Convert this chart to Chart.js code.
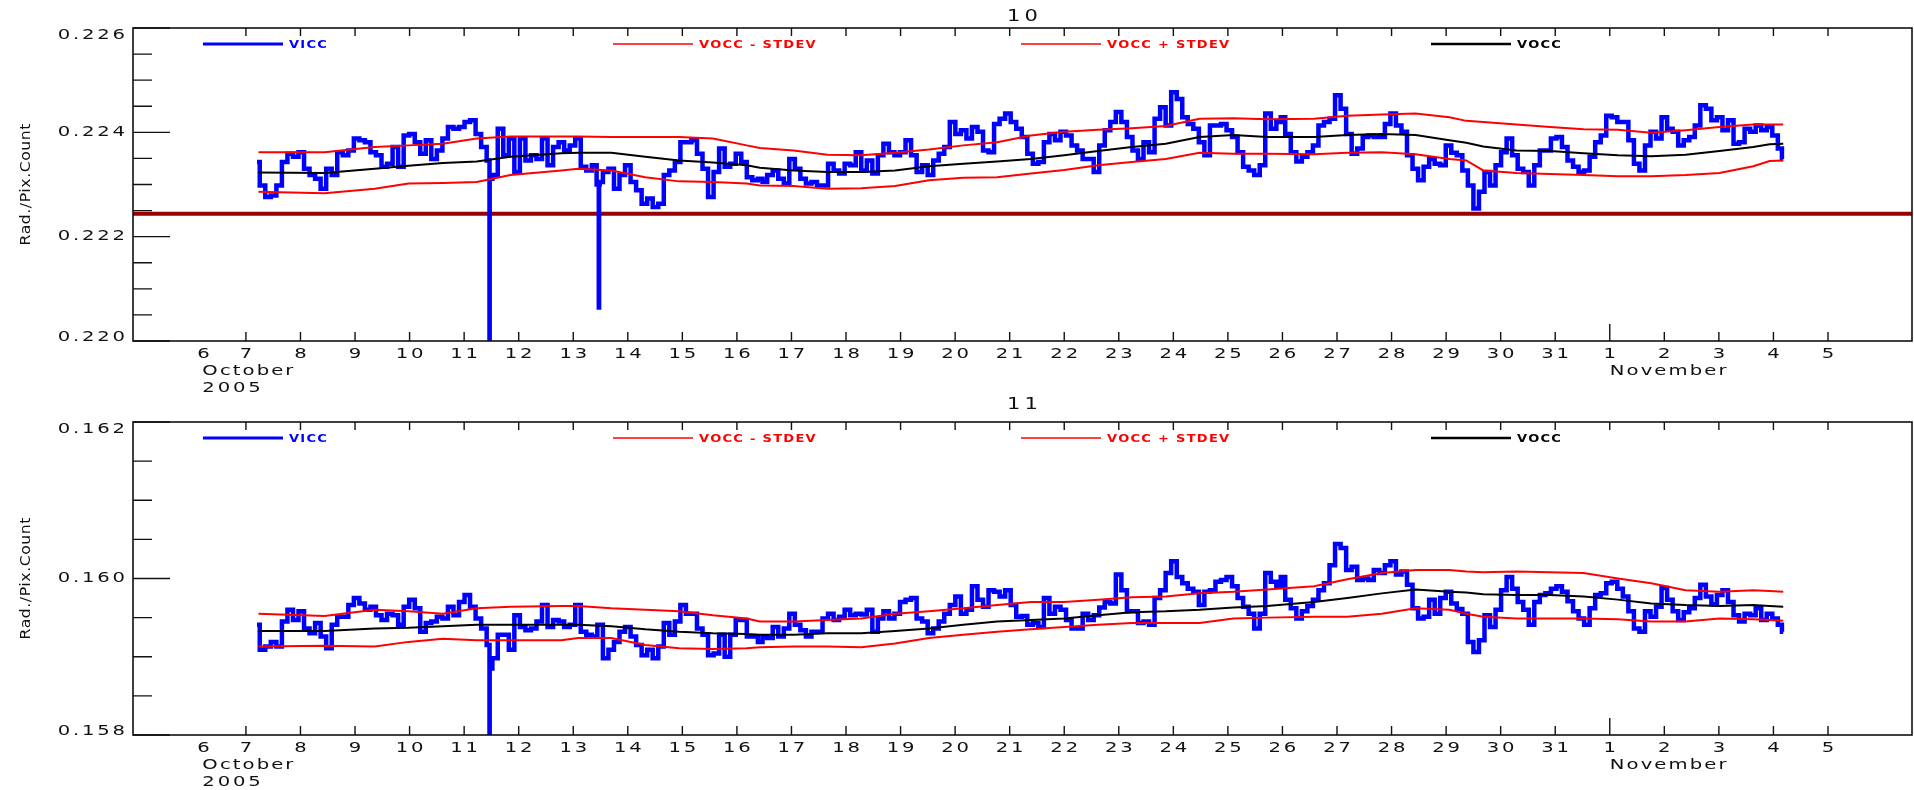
<!DOCTYPE html>
<html>
<head>
<meta charset="utf-8">
<title>VICC / VOCC bands 10 and 11</title>
<script src="https://cdn.jsdelivr.net/npm/chart.js@4.4.1/dist/chart.umd.min.js"></script>
<style>
  html, body { margin: 0; padding: 0; background: #ffffff; }
  #wrap { position: relative; width: 1914px; height: 790px; overflow: hidden; }
  #wrap canvas { position: absolute; left: 0; }
</style>
</head>
<body>
<div id="wrap">
  <canvas id="band10" width="1914" height="395" style="top:0px"></canvas>
  <canvas id="band11" width="1914" height="395" style="top:395px"></canvas>
</div>
<script>
// ---- time axis (day of October 2005; 32 = 1 November) ----
const axisDayMin = 4.93;
const axisDayMax = 37.54;
const dayTicks = [7,8,9,10,11,12,13,14,15,16,17,18,19,20,21,22,23,24,25,26,27,28,29,30,31,32,33,34,35,36];
const dayTickLabels = ['7','8','9','10','11','12','13','14','15','16','17','18','19','20','21','22','23','24','25','26','27','28','29','30','31','1','2','3','4','5'];
const leadDayLabel = '6';
const monthLabels = ['October', 'November'];
const yearLabel = '2005';

// ---- VICC samples (shared sample times for both bands) ----
const sampleDays = [
  7.203,7.304,7.406,7.507,7.609,7.710,7.812,7.913,8.015,8.116,8.217,8.319,8.420,8.522,8.623,8.725,8.826,8.928,9.029,9.130,
  9.232,9.333,9.435,9.536,9.638,9.739,9.841,9.942,10.044,10.145,10.246,10.348,10.449,10.551,10.652,10.754,10.855,10.957,11.058,11.159,
  11.261,11.362,11.464,11.565,11.667,11.768,11.870,11.971,12.073,12.174,12.275,12.377,12.478,12.580,12.681,12.783,12.884,12.986,13.087,13.188,
  13.290,13.391,13.493,13.594,13.696,13.797,13.899,14.000,14.102,14.203,14.304,14.406,14.507,14.609,14.710,14.812,14.913,15.015,15.116,15.217,
  15.319,15.420,15.522,15.623,15.725,15.826,15.928,16.029,16.131,16.232,16.333,16.435,
  16.504,16.606,16.707,16.809,16.910,17.011,17.113,17.214,17.316,17.417,17.519,17.620,17.722,17.823,17.924,18.026,18.127,18.229,18.330,18.432,
  18.533,18.635,18.736,18.837,18.939,19.040,19.142,19.243,19.345,19.446,19.548,19.649,19.750,19.852,19.953,20.055,20.156,20.258,20.359,20.461,
  20.562,20.663,20.765,20.866,20.968,21.069,21.171,21.272,21.374,21.475,21.576,21.678,21.779,21.881,21.982,22.084,22.185,22.287,22.388,22.489,
  22.591,22.692,22.794,22.895,22.997,23.098,23.200,23.301,23.402,23.504,23.605,23.707,23.808,23.910,24.011,24.113,24.214,24.315,24.417,24.518,
  24.620,24.721,24.823,24.924,25.026,25.127,25.228,25.330,25.431,25.533,25.634,25.736,25.837,25.939,
  26.000,26.102,26.204,26.305,26.406,26.508,26.609,26.711,26.812,26.914,27.015,27.117,27.218,27.319,27.421,27.522,27.624,27.725,27.827,27.928,
  28.030,28.131,28.232,28.334,28.435,28.537,28.638,28.740,28.841,28.943,29.044,29.145,29.247,29.348,29.450,29.551,29.653,29.754,29.856,29.957,
  30.058,30.160,30.261,30.363,30.464,30.566,30.667,30.769,30.870,30.972,31.073,31.174,31.276,31.377,31.479,31.580,31.682,31.783,31.885,31.986,
  32.087,32.189,32.290,32.392,32.493,32.595,32.696,32.798,32.899,33.000,33.102,33.203,33.305,33.406,33.508,33.609,33.711,33.812,33.913,34.015,
  34.116,34.218,34.319,34.421,34.522,34.624,34.725,34.827,34.928,35.030,35.131,35.180
];

const vicc10 = [
  0.22343,0.22298,0.22276,0.22279,0.22298,0.22343,0.22359,0.22353,0.22362,0.22330,0.22318,0.22311,0.22292,0.22330,0.22318,0.22362,0.22356,0.22365,0.22388,0.22385,
  0.22381,0.22362,0.22356,0.22334,0.22340,0.22372,0.22334,0.22394,0.22397,0.22381,0.22359,0.22385,0.22349,0.22365,0.22388,0.22410,0.22407,0.22410,0.22420,0.22423,
  0.22397,0.22372,0.22346,0.22318,0.22407,0.22356,0.22388,0.22324,0.22388,0.22346,0.22356,0.22349,0.22388,0.22337,0.22372,0.22381,0.22365,0.22375,0.22388,0.22334,
  0.22327,0.22337,0.22305,0.22324,0.22330,0.22292,0.22318,0.22337,0.22305,0.22289,0.22263,0.22273,0.22257,0.22263,0.22318,0.22327,0.22343,0.22381,0.22381,0.22385,
  0.22359,0.22330,0.22276,0.22324,0.22369,0.22334,0.22340,0.22359,0.22343,0.22314,0.22308,0.22311,
  0.22305,0.22318,0.22327,0.22311,0.22302,0.22349,0.22330,0.22311,0.22302,0.22305,0.22298,0.22298,0.22340,0.22327,0.22321,0.22340,0.22337,0.22362,0.22327,0.22346,
  0.22321,0.22356,0.22378,0.22362,0.22356,0.22362,0.22385,0.22356,0.22324,0.22337,0.22318,0.22346,0.22359,0.22372,0.22420,0.22397,0.22404,0.22388,0.22410,0.22401,
  0.22365,0.22362,0.22416,0.22426,0.22436,0.22420,0.22407,0.22391,0.22359,0.22340,0.22343,0.22381,0.22397,0.22385,0.22401,0.22394,0.22375,0.22365,0.22349,0.22349,
  0.22324,0.22375,0.22404,0.22420,0.22439,0.22420,0.22391,0.22365,0.22349,0.22381,0.22362,0.22426,0.22448,0.22413,0.22477,0.22464,0.22429,0.22416,0.22407,0.22381,
  0.22356,0.22413,0.22413,0.22416,0.22404,0.22391,0.22362,0.22334,0.22327,0.22318,0.22337,0.22436,0.22407,0.22420,
  0.22429,0.22397,0.22362,0.22344,0.22353,0.22362,0.22375,0.22413,0.22420,0.22426,0.22471,0.22445,0.22397,0.22359,0.22369,0.22391,0.22394,0.22391,0.22391,0.22416,
  0.22436,0.22413,0.22401,0.22356,0.22330,0.22308,0.22334,0.22349,0.22340,0.22337,0.22375,0.22361,0.22356,0.22327,0.22298,0.22254,0.22286,0.22324,0.22298,0.22337,
  0.22362,0.22388,0.22356,0.22330,0.22324,0.22298,0.22337,0.22365,0.22365,0.22388,0.22391,0.22372,0.22346,0.22334,0.22324,0.22327,0.22353,0.22381,0.22394,0.22432,
  0.22429,0.22420,0.22420,0.22385,0.22340,0.22327,0.22375,0.22401,0.22388,0.22429,0.22407,0.22401,0.22375,0.22385,0.22391,0.22413,0.22452,0.22445,0.22423,0.22429,
  0.22404,0.22423,0.22378,0.22381,0.22407,0.22401,0.22413,0.22404,0.22410,0.22394,0.22369,0.22349
];

const vicc11 = [
  0.15941,0.15909,0.15913,0.15919,0.15913,0.15945,0.15960,0.15947,0.15958,0.15936,0.15930,0.15943,0.15926,0.15911,0.15941,0.15951,0.15951,0.15966,0.15975,0.15968,
  0.15960,0.15964,0.15953,0.15947,0.15955,0.15953,0.15941,0.15964,0.15973,0.15962,0.15932,0.15943,0.15945,0.15951,0.15949,0.15964,0.15953,0.15970,0.15979,0.15964,
  0.15949,0.15936,0.15915,0.15898,0.15928,0.15928,0.15909,0.15953,0.15938,0.15934,0.15936,0.15945,0.15966,0.15938,0.15947,0.15945,0.15938,0.15941,0.15966,0.15932,
  0.15928,0.15926,0.15941,0.15898,0.15909,0.15919,0.15932,0.15938,0.15926,0.15915,0.15902,0.15909,0.15898,0.15913,0.15943,0.15928,0.15945,0.15966,0.15955,0.15955,
  0.15936,0.15928,0.15902,0.15904,0.15928,0.15900,0.15928,0.15947,0.15947,0.15926,0.15926,0.15919,
  0.15926,0.15924,0.15938,0.15926,0.15936,0.15955,0.15941,0.15934,0.15926,0.15932,0.15932,0.15949,0.15955,0.15947,0.15951,0.15960,0.15953,0.15955,0.15954,0.15960,
  0.15932,0.15949,0.15958,0.15949,0.15955,0.15970,0.15973,0.15975,0.15949,0.15945,0.15930,0.15936,0.15945,0.15955,0.15966,0.15977,0.15955,0.15960,0.15990,0.15973,
  0.15964,0.15985,0.15983,0.15977,0.15985,0.15966,0.15951,0.15952,0.15941,0.15943,0.15938,0.15975,0.15955,0.15964,0.15960,0.15947,0.15936,0.15936,0.15955,0.15947,
  0.15953,0.15963,0.15970,0.15968,0.16005,0.15985,0.15958,0.15958,0.15943,0.15945,0.15941,0.15975,0.15985,0.16007,0.16022,0.16002,0.15994,0.15987,0.15983,0.15966,
  0.15983,0.15985,0.15996,0.15998,0.16002,0.15990,0.15975,0.15964,0.15955,0.15936,0.15955,0.16007,0.15996,0.15990,
  0.16002,0.15973,0.15962,0.15949,0.15958,0.15965,0.15973,0.15985,0.15994,0.16017,0.16044,0.16039,0.16011,0.16015,0.15998,0.16000,0.15998,0.16011,0.16007,0.16017,
  0.16022,0.16005,0.16009,0.15992,0.15962,0.15949,0.15951,0.15973,0.15955,0.15975,0.15983,0.15968,0.15961,0.15955,0.15919,0.15906,0.15921,0.15953,0.15938,0.15960,
  0.15985,0.16002,0.15987,0.15970,0.15960,0.15941,0.15970,0.15979,0.15981,0.15987,0.15990,0.15983,0.15971,0.15958,0.15949,0.15941,0.15962,0.15979,0.15981,0.15994,
  0.15996,0.15987,0.15977,0.15958,0.15936,0.15932,0.15958,0.15951,0.15964,0.15988,0.15973,0.15958,0.15947,0.15957,0.15962,0.15975,0.15992,0.15977,0.15967,0.15979,
  0.15985,0.15970,0.15953,0.15945,0.15955,0.15953,0.15962,0.15947,0.15955,0.15949,0.15941,0.15932
];

// short dropouts (isolated samples)
const spikeDays10 = [11.466, 11.470, 13.466, 13.471, 13.476];
const spikeVals10 = [0.21990, 0.22311, 0.22300, 0.22064, 0.22300];
const spikeDays11 = [11.466, 11.470];
const spikeVals11 = [0.15790, 0.15885];

// ---- VOCC mean and +/- STDEV envelopes ----
const envDays = [7.23,8.44,9.36,9.98,10.61,11.23,11.85,12.78,13.09,13.70,14.32,14.94,15.56,16.18,16.42,17.04,17.66,18.28,18.90,19.52,
  20.15,20.77,21.39,22.00,22.62,23.24,23.86,24.48,25.10,25.72,26.58,27.19,27.82,28.44,29.06,29.37,29.68,30.29,30.91,31.52,
  32.15,32.76,33.39,34.01,34.63,34.93,35.18];

const voccHi10 = [0.22362,0.22362,0.22372,0.22375,0.22378,0.22388,0.22392,0.22392,0.22392,0.22391,0.22391,0.22391,0.22388,0.22375,0.22370,0.22365,0.22357,0.22356,0.22361,0.22367,
  0.22375,0.22381,0.22394,0.22401,0.22405,0.22408,0.22412,0.22426,0.22427,0.22425,0.22426,0.22432,0.22434,0.22436,0.22429,0.22422,0.22420,0.22415,0.22410,0.22406,
  0.22405,0.22399,0.22404,0.22410,0.22415,0.22415,0.22415];
const voccLo10 = [0.22286,0.22283,0.22292,0.22302,0.22303,0.22305,0.22318,0.22327,0.22330,0.22327,0.22314,0.22306,0.22305,0.22302,0.22298,0.22297,0.22292,0.22293,0.22297,0.22308,
  0.22313,0.22314,0.22321,0.22328,0.22337,0.22343,0.22349,0.22361,0.22359,0.22359,0.22358,0.22361,0.22362,0.22358,0.22349,0.22346,0.22327,0.22322,0.22320,0.22318,
  0.22316,0.22316,0.22318,0.22322,0.22335,0.22345,0.22346];
const vocc10 = [0.22323,0.22322,0.22330,0.22336,0.22341,0.22344,0.22353,0.22360,0.22361,0.22361,0.22353,0.22346,0.22342,0.22337,0.22332,0.22327,0.22324,0.22324,0.22327,0.22335,
  0.22340,0.22344,0.22349,0.22356,0.22364,0.22372,0.22378,0.22391,0.22395,0.22391,0.22391,0.22395,0.22397,0.22395,0.22385,0.22380,0.22373,0.22365,0.22364,0.22360,
  0.22356,0.22354,0.22357,0.22364,0.22372,0.22377,0.22378];

const voccHi11 = [0.15955,0.15952,0.15960,0.15958,0.15955,0.15962,0.15964,0.15965,0.15965,0.15962,0.15960,0.15958,0.15953,0.15949,0.15945,0.15945,0.15947,0.15949,0.15955,0.15958,
  0.15962,0.15966,0.15970,0.15970,0.15973,0.15976,0.15977,0.15981,0.15983,0.15986,0.15990,0.15999,0.16007,0.16011,0.16011,0.16009,0.16008,0.16009,0.16008,0.16007,
  0.16000,0.15994,0.15985,0.15983,0.15985,0.15984,0.15983];
const voccLo11 = [0.15913,0.15914,0.15913,0.15919,0.15923,0.15921,0.15921,0.15921,0.15924,0.15924,0.15915,0.15911,0.15910,0.15911,0.15912,0.15913,0.15913,0.15912,0.15917,0.15924,
  0.15928,0.15932,0.15935,0.15938,0.15941,0.15943,0.15943,0.15943,0.15949,0.15950,0.15951,0.15951,0.15955,0.15962,0.15960,0.15955,0.15951,0.15949,0.15949,0.15949,
  0.15948,0.15945,0.15945,0.15949,0.15948,0.15947,0.15946];
const vocc11 = [0.15933,0.15933,0.15936,0.15937,0.15939,0.15941,0.15941,0.15941,0.15941,0.15939,0.15935,0.15932,0.15930,0.15929,0.15928,0.15928,0.15930,0.15930,0.15933,0.15936,
  0.15941,0.15945,0.15947,0.15949,0.15953,0.15957,0.15958,0.15960,0.15963,0.15965,0.15970,0.15975,0.15981,0.15986,0.15983,0.15982,0.15980,0.15979,0.15979,0.15977,
  0.15973,0.15968,0.15966,0.15965,0.15966,0.15965,0.15964];

// reference level marked across band 10
const refLevel10 = 0.22244;

// ---- value axes ----
const yTicks10 = [0.220, 0.222, 0.224, 0.226];
const yTickLabels10 = ['0.220', '0.222', '0.224', '0.226'];
const yTicks11 = [0.158, 0.160, 0.162];
const yTickLabels11 = ['0.158', '0.160', '0.162'];
const yTitle = 'Rad./Pix.Count';
const seriesLabels = ['VICC', 'VOCC - STDEV', 'VOCC + STDEV', 'VOCC'];

// ---------------------------------------------------------------
const FONT = '"DejaVu Sans", "Liberation Sans", sans-serif';
const INK = '#111111';

function pairs(xs, ys) { return xs.map((x, i) => ({ x: x, y: ys[i] })); }
function mergeSorted(a, b) { return a.concat(b).sort((p, q) => p.x - q.x); }

// wide, lightly tracked text; align: left | center | right; sx stretches horizontally
function wide(ctx, text, x, y, align, spacing, sx) {
  const hasSpacing = 'letterSpacing' in ctx;
  ctx.letterSpacing = spacing + 'px';
  let w = ctx.measureText(text).width;
  if (hasSpacing) w -= spacing;
  w *= sx;
  let x0 = x;
  if (align === 'center') x0 = x - w / 2;
  else if (align === 'right') x0 = x - w;
  ctx.save();
  ctx.translate(x0, y);
  ctx.scale(sx, 1);
  ctx.textAlign = 'left';
  ctx.fillText(text, 0, 0);
  ctx.restore();
  ctx.letterSpacing = '0px';
}

const decor = {
  id: 'decor',
  afterDraw(chart) {
    const o = chart.options.plugins.decor;
    const ctx = chart.ctx;
    const a = chart.chartArea;
    const xs = chart.scales.x, ys = chart.scales.y;
    ctx.save();

    // frame
    ctx.strokeStyle = INK;
    ctx.lineWidth = 1.6;
    ctx.strokeRect(a.left, a.top, a.right - a.left, a.bottom - a.top);

    // value-axis ticks, major and minor, pointing inward
    ctx.lineWidth = 1.4;
    ctx.beginPath();
    o.yTicks.forEach((v, i) => {
      const y = ys.getPixelForValue(v);
      ctx.moveTo(a.left, y); ctx.lineTo(a.left + 37, y);
      if (i < o.yTicks.length - 1) {
        const step = (o.yTicks[i + 1] - v) / 4;
        for (let k = 1; k < 4; k++) {
          const ym = ys.getPixelForValue(v + k * step);
          ctx.moveTo(a.left, ym); ctx.lineTo(a.left + 19, ym);
        }
      }
    });
    // day ticks on bottom and top edges; month start gets a longer mark
    dayTicks.forEach(d => {
      const x = xs.getPixelForValue(d);
      const long = d === 32;
      ctx.moveTo(x, a.bottom); ctx.lineTo(x, a.bottom - (long ? 17 : 9));
      ctx.moveTo(x, a.top); ctx.lineTo(x, a.top + 8);
    });
    ctx.stroke();

    // value labels
    ctx.fillStyle = INK;
    ctx.font = '14px ' + FONT;
    ctx.textBaseline = 'middle';
    o.yTicks.forEach((v, i) => {
      let y = ys.getPixelForValue(v);
      if (i === 0) y -= 4;
      if (i === o.yTicks.length - 1) y += 7;
      wide(ctx, o.yLabels[i], a.left - 8, y, 'right', 2, 1.4);
    });

    // day labels
    const yDay = a.bottom + 13;
    dayTicks.forEach((d, i) => {
      wide(ctx, dayTickLabels[i], xs.getPixelForValue(d), yDay, 'center', 2, 1.4);
    });
    wide(ctx, leadDayLabel, xs.getPixelForValue(6.22), yDay, 'center', 2, 1.4);
    wide(ctx, monthLabels[0], xs.getPixelForValue(6.22) - 1, a.bottom + 30, 'left', 1.5, 1.4);
    wide(ctx, yearLabel, xs.getPixelForValue(6.22) - 1, a.bottom + 47, 'left', 2, 1.4);
    wide(ctx, monthLabels[1], xs.getPixelForValue(32), a.bottom + 30, 'left', 1.5, 1.4);

    // axis title
    ctx.save();
    ctx.translate(26, (a.top + a.bottom) / 2);
    ctx.rotate(-Math.PI / 2);
    ctx.font = '14px ' + FONT;
    wide(ctx, yTitle, 0, 0, 'center', 0.5, 1.12);
    ctx.restore();

    // panel title
    ctx.font = '15px ' + FONT;
    wide(ctx, o.title, (a.left + a.right) / 2, o.titleY, 'center', 3, 1.4);

    // legend
    ctx.font = 'bold 10px ' + FONT;
    const slots = [203, 613, 1021, 1431];
    const ly = a.top + 16;
    chart.data.datasets.forEach((ds, i) => {
      if (i >= slots.length) return;
      const x0 = slots[i];
      ctx.strokeStyle = ds.borderColor;
      ctx.lineWidth = ds.legendWidth;
      ctx.beginPath(); ctx.moveTo(x0, ly); ctx.lineTo(x0 + 80, ly); ctx.stroke();
      ctx.fillStyle = ds.borderColor;
      wide(ctx, ds.label, x0 + 86, ly + 1, 'left', 1, 1.3);
    });

    ctx.restore();
  }
};

function makePanel(canvasId, p) {
  const datasets = [
    { label: seriesLabels[0], data: p.vicc, borderColor: '#0000ff', borderWidth: 4.5, legendWidth: 3, order: 4, clip: 0,
      stepped: 'middle', borderJoinStyle: 'miter' },
    { label: seriesLabels[1], data: pairs(envDays, p.lo), borderColor: '#ff0000', borderWidth: 2, legendWidth: 1.5, order: 3 },
    { label: seriesLabels[2], data: pairs(envDays, p.hi), borderColor: '#ff0000', borderWidth: 2, legendWidth: 1.5, order: 2 },
    { label: seriesLabels[3], data: pairs(envDays, p.mid), borderColor: '#000000', borderWidth: 2, legendWidth: 2.5, order: 1 }
  ];
  if (p.ref !== undefined) {
    datasets.push({ label: 'reference', data: [{ x: axisDayMin, y: p.ref }, { x: axisDayMax, y: p.ref }],
      borderColor: '#960000', borderWidth: 4, legendWidth: 0, order: 5, clip: 0 });
  }
  return new Chart(document.getElementById(canvasId), {
    type: 'line',
    data: { datasets: datasets },
    options: {
      responsive: false,
      animation: false,
      devicePixelRatio: 1,
      events: [],
      elements: { point: { radius: 0 }, line: { tension: 0, fill: false } },
      layout: { padding: { left: 133, right: 2, top: p.top, bottom: p.bottom } },
      scales: {
        x: { type: 'linear', display: false, min: axisDayMin, max: axisDayMax },
        y: { type: 'linear', display: false, min: p.yTicks[0], max: p.yTicks[p.yTicks.length - 1] }
      },
      plugins: {
        legend: { display: false },
        tooltip: { enabled: false },
        title: { display: false },
        decor: { yTicks: p.yTicks, yLabels: p.yLabels, title: p.title, titleY: p.titleY }
      }
    },
    plugins: [decor]
  });
}

makePanel('band10', {
  vicc: mergeSorted(pairs(sampleDays, vicc10), pairs(spikeDays10, spikeVals10)),
  lo: voccLo10, hi: voccHi10, mid: vocc10, ref: refLevel10,
  yTicks: yTicks10, yLabels: yTickLabels10, title: '10', titleY: 17,
  top: 28, bottom: 54
});

makePanel('band11', {
  vicc: mergeSorted(pairs(sampleDays, vicc11), pairs(spikeDays11, spikeVals11)),
  lo: voccLo11, hi: voccHi11, mid: vocc11,
  yTicks: yTicks11, yLabels: yTickLabels11, title: '11', titleY: 10,
  top: 27, bottom: 55
});
</script>
</body>
</html>
